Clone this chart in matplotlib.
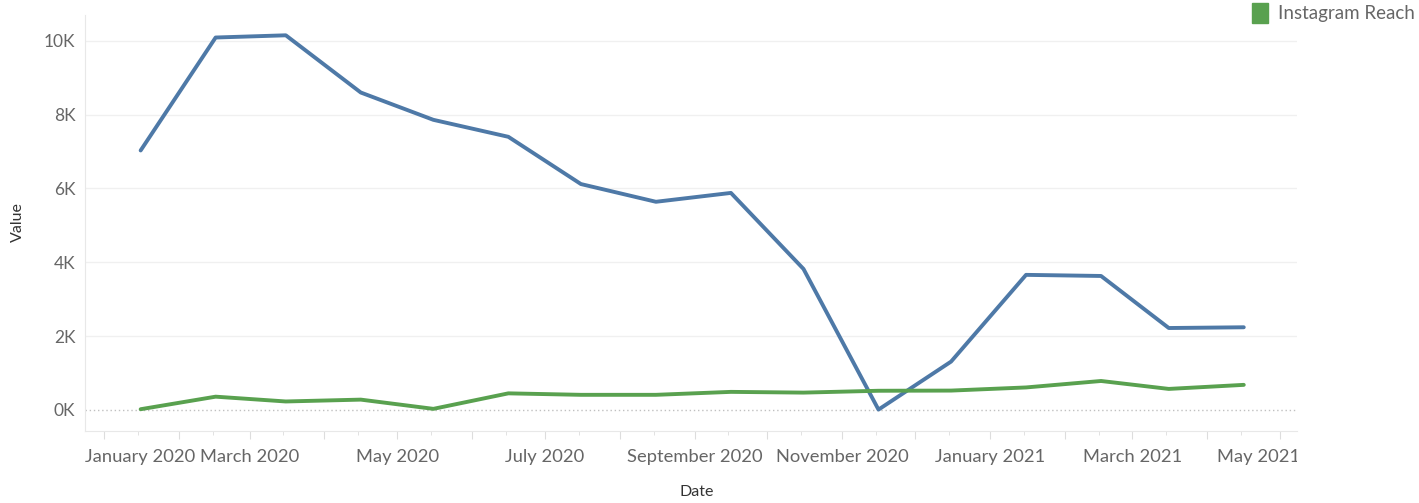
import pandas as pd
import matplotlib.pyplot as plt
import matplotlib.dates as mdates
import matplotlib.transforms as mtransforms
from matplotlib.patches import Patch

plt.rcParams['font.family'] = ['Lato', 'DejaVu Sans']

# monthly values, plotted at mid-month
dates = ['2020-01-16', '2020-02-16', '2020-03-16', '2020-04-16', '2020-05-16', '2020-06-16',
         '2020-07-16', '2020-08-16', '2020-09-16', '2020-10-16', '2020-11-16', '2020-12-16',
         '2021-01-16', '2021-02-16', '2021-03-16', '2021-04-16']
facebook_reach = [7030, 10090, 10150, 8600, 7860, 7400, 6120, 5640, 5880, 3820, 10, 1310,
                  3660, 3630, 2220, 2240]
instagram_reach = [20, 360, 230, 280, 30, 450, 410, 410, 490, 470, 520, 525,
                   610, 785, 570, 680]
y_ticks = [0, 2000, 4000, 6000, 8000, 10000]

x = pd.to_datetime(dates)
blue = '#4e79a7'
green = '#59a14f'
grey_txt = '#666666'

fig = plt.figure(figsize=(14.19, 5.03), dpi=100)
ax = fig.add_axes([85/1419, 1-431/503, (1297-85)/1419, (431-15)/503])

for v in y_ticks[1:]:
    ax.axhline(v, color='#f0f0f0', lw=1, zorder=0)
ax.axhline(0, color='#c0c0c0', lw=1, ls=(0, (1, 2)), zorder=0)

ax.plot(x, facebook_reach, color=blue, lw=2.8, solid_capstyle='round', solid_joinstyle='round', zorder=3)
ax.plot(x, instagram_reach, color=green, lw=2.8, solid_capstyle='round', solid_joinstyle='round', zorder=3)

ax.set_ylim(-570, 10700)
ax.set_xlim(pd.Timestamp('2019-12-24'), pd.Timestamp('2021-05-08'))

ax.set_yticks(y_ticks)
ax.set_yticklabels([f'{v//1000}K' for v in y_ticks])
ax.tick_params(axis='y', length=0, pad=7, labelsize=12.5, labelcolor=grey_txt)

ax.xaxis.set_major_locator(mdates.MonthLocator(bymonthday=1))
ax.xaxis.set_minor_locator(mdates.MonthLocator(bymonthday=15))
fig.canvas.draw()
ticks = ax.get_xticks()
labs = []
for t in ticks:
    d = mdates.num2date(t)
    labs.append(d.strftime('%B %Y') if d.month % 2 == 1 else '')
ax.set_xticks(ticks)
ax.set_xticklabels(labs)
ax.tick_params(axis='x', which='major', length=6, color='#dddddd', pad=7, labelsize=13.2, labelcolor=grey_txt)
ax.tick_params(axis='x', which='minor', length=3, color='#dddddd')

xl = ax.get_xticklabels()
first = xl[0]
first.set_transform(first.get_transform() + mtransforms.ScaledTranslation(0.36, 0, fig.dpi_scale_trans))
last = xl[-1]
last.set_transform(last.get_transform() + mtransforms.ScaledTranslation(-0.22, 0, fig.dpi_scale_trans))
last.set_clip_box(mtransforms.Bbox([[0, 0], [1297, 503]]))
last.set_clip_on(True)

for s in ['top', 'right']:
    ax.spines[s].set_visible(False)
for s in ['left', 'bottom']:
    ax.spines[s].set_color('#e8e8e8')

fig.text(18/1419, 1-222/503, 'Value', rotation=90, ha='center', va='center', fontsize=11.5, color='#333333')
fig.text(697/1419, 1-492/503, 'Date', ha='center', va='center', fontsize=11.5, color='#333333')

fig.legend(handles=[Patch(color=green)], labels=['Instagram Reach'], loc='upper left',
           bbox_to_anchor=(1249/1419, 1.0), frameon=False, handlelength=0.85, handleheight=1.25,
           handletextpad=0.55, borderaxespad=0, borderpad=0.15, fontsize=13.5, labelcolor=grey_txt)

fig.savefig('out.png', dpi=100)
